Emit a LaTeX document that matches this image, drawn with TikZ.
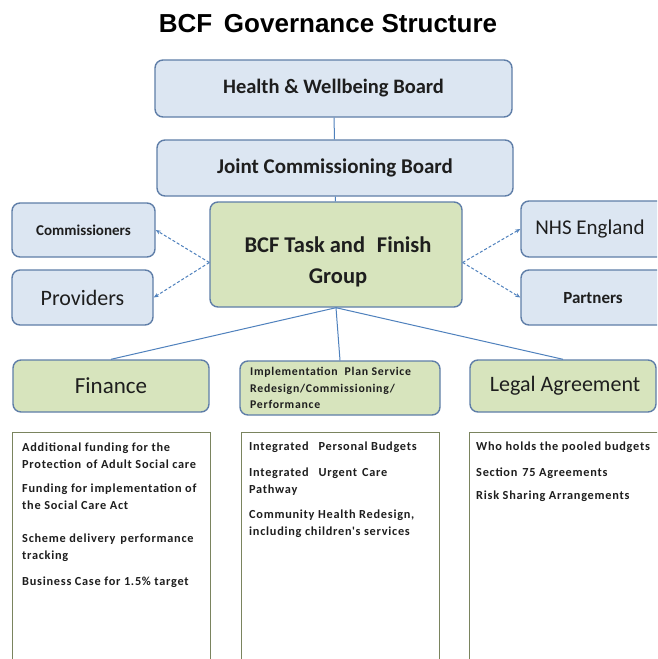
\documentclass[tikz,border=0pt]{standalone}
\usepackage{fontspec}
\setmainfont{Carlito}
\newfontfamily\titlefont{Liberation Sans}
\newfontfamily\smallfont[LetterSpace=6]{Carlito}
\usetikzlibrary{arrows.meta}
\definecolor{boxblue}{HTML}{DCE6F2}
\definecolor{boxgreen}{HTML}{D7E4BD}
\definecolor{edgeblue}{HTML}{5F7EA8}
\definecolor{linkblue}{HTML}{4F81BD}
\definecolor{olive}{HTML}{7A845E}
\definecolor{ink}{HTML}{1E1E1E}
\tikzset{
  orgbox/.style={draw=edgeblue, line width=1.4pt, rounded corners=8pt, text=ink, inner sep=0pt},
  bluebox/.style={orgbox, fill=boxblue},
  greenbox/.style={orgbox, fill=boxgreen},
  detailbox/.style={draw=olive, line width=1.4pt, fill=white, inner sep=0pt, anchor=north west},
  detailtext/.style={anchor=north west, align=left, inner sep=0pt, font=\smallfont\fontsize{12.3}{16.5}\selectfont\bfseries, text=ink},
  impltext/.style={anchor=north west, align=left, inner sep=0pt, font=\smallfont\fontsize{11.8}{16.5}\selectfont\bfseries, text=ink},
  link/.style={draw=linkblue, line width=1pt},
  dashlink/.style={draw=linkblue, line width=1pt, dash pattern=on 3pt off 2pt, -{Stealth[length=5pt,width=4pt]}}
}
\begin{document}
\begin{tikzpicture}[x=1pt,y=-1pt]
\clip (0,0) rectangle (657,659);
\fill[white] (0,0) rectangle (657,659);

% title
\node (title) at (328,24) {\titlefont\bfseries\fontsize{26}{28}\selectfont BCF\hspace{0.45em}Governance Structure};

% board chain
\node[bluebox, minimum width=357pt, minimum height=57pt, font=\fontsize{20.5}{22}\selectfont\bfseries] (hwb) at (333.5,88.5) {Health \& Wellbeing Board};
\node[bluebox, minimum width=356pt, minimum height=56pt, font=\fontsize{21}{22}\selectfont\bfseries] (jcb) at (335,168) {Joint Commissioning Board};
\node[greenbox, minimum width=252pt, minimum height=105pt] (bcf) at (336,254.5) {};
\node[align=center, text=ink, font=\fontsize{22.5}{31}\selectfont\bfseries] (bcft) at (338,262) {BCF Task and\hspace{0.3em} Finish\\Group};

% side partners
\node[bluebox, minimum width=143pt, minimum height=54pt, font=\fontsize{15}{17}\selectfont\bfseries] (com) at (83.5,230) {Commissioners};
\node[bluebox, minimum width=141pt, minimum height=55pt, font=\fontsize{22}{24}\selectfont] (prov) at (82.5,297.5) {Providers};
\node[bluebox, minimum width=151pt, minimum height=56pt] (nhs) at (596.5,229) {};
\node[text=ink, font=\fontsize{21}{23}\selectfont] (nhst) at (590,229) {NHS England};
\node[bluebox, minimum width=151pt, minimum height=55pt] (part) at (596.5,297.5) {};
\node[text=ink, font=\fontsize{17}{19}\selectfont\bfseries] (partt) at (593,298) {Partners};

% workstreams
\node[greenbox, minimum width=196pt, minimum height=52pt, font=\fontsize{23}{25}\selectfont] (fin) at (111,386) {Finance};
\node[greenbox, minimum width=200pt, minimum height=54pt] (impl) at (340,388) {};
\node[impltext] (implt) at (250,367) {Implementation\hspace{0.6em}Plan Service\\Redesign/Commissioning/\\Performance};
\node[greenbox, minimum width=186pt, minimum height=52pt] (legal) at (563,386) {};
\node[text=ink, font=\fontsize{22}{24}\selectfont] (legalt) at (565,386) {Legal Agreement};

% detail panels
\node[detailbox, minimum width=198pt, minimum height=240pt] (find) at (12,432) {};
\node[detailbox, minimum width=198pt, minimum height=240pt] (impld) at (241,432) {};
\node[detailbox, minimum width=200pt, minimum height=240pt] (legald) at (469,432) {};

\node[detailtext] (f1) at (22,443) {Additional funding for the\\Protection\hspace{0.4em}of Adult Social care};
\node[detailtext] (f2) at (22,484) {Funding for implementation of\\the Social Care Act};
\node[detailtext] (f3) at (22,534) {Scheme delivery\hspace{0.4em}performance\\tracking};
\node[detailtext] (f4) at (22,577) {Business Case for 1.5\% target};

\node[detailtext] (m1) at (249,442) {Integrated\hspace{0.8em}Personal Budgets};
\node[detailtext] (m2) at (249,468) {Integrated\hspace{0.8em}Urgent\hspace{0.4em}Care\\Pathway};
\node[detailtext] (m3) at (249,510) {Community Health Redesign,\\including children's services};

\node[detailtext] (l1) at (476,442) {Who holds the pooled budgets};
\node[detailtext] (l2) at (476,468) {Section\hspace{0.4em}75 Agreements};
\node[detailtext] (l3) at (476,491) {Risk Sharing Arrangements};

% connectors
\draw[link] (hwb) -- (jcb);
\draw[link] (jcb) -- (bcf);
\draw[link] (bcf.south) -- (fin.north);
\draw[link] (bcf.south) -- (impl.north);
\draw[link] (bcf.south) -- (legal.north);

\coordinate (bl) at ([yshift=-8pt]bcf.west);
\coordinate (br) at ([yshift=-8pt]bcf.east);
\draw[dashlink] (bl) -- (com.east);
\draw[dashlink] (bl) -- (prov.east);
\draw[dashlink] (br) -- (nhs.west);
\draw[dashlink] (br) -- (part.west);
\end{tikzpicture}
\end{document}
